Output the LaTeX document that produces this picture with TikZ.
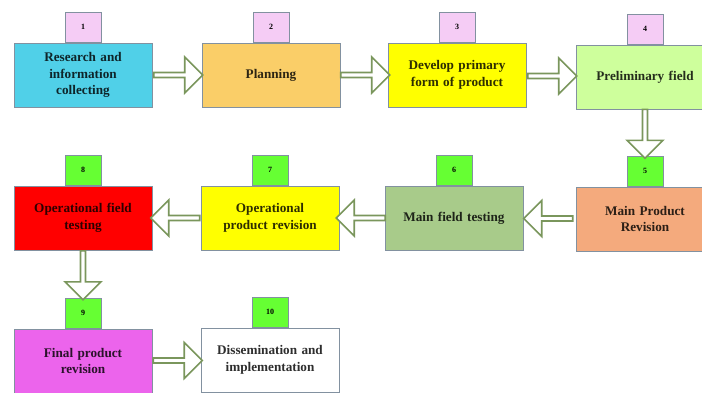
\documentclass[tikz,border=0pt]{standalone}
\usepackage{fontspec}
\setmainfont{Liberation Serif}
\usepackage{xcolor}
\usepackage{tikz}
\usetikzlibrary{positioning,shapes.arrows}

\definecolor{fillcyan}{RGB}{80,208,232}
\definecolor{fillgold}{RGB}{250,206,104}
\definecolor{fillyellow}{RGB}{255,255,0}
\definecolor{filllime}{RGB}{206,255,156}
\definecolor{fillsalmon}{RGB}{244,170,125}
\definecolor{fillsage}{RGB}{168,203,138}
\definecolor{fillred}{RGB}{255,0,0}
\definecolor{fillmagenta}{RGB}{236,100,236}
\definecolor{tabpink}{RGB}{245,204,245}
\definecolor{tabgreen}{RGB}{102,255,51}
\definecolor{boxline}{RGB}{130,145,160}
\definecolor{arrowgreen}{RGB}{122,150,92}

\tikzset{
  stepbox/.style={draw=boxline, line width=0.8pt, fill=#1, text=#1!18!black,
    minimum width=138pt, minimum height=64pt, text width=128pt, align=center,
    inner sep=0pt, font=\fontsize{13.2}{16.5}\selectfont\bfseries},
  numtab/.style={draw=boxline, line width=0.8pt, fill=#1, minimum width=36pt,
    minimum height=30pt, inner sep=0pt, font=\fontsize{8}{9}\selectfont\bfseries},
  hollow/.style={single arrow, draw=arrowgreen, line width=1.6pt, fill=white,
    minimum width=36pt, minimum height=49pt, single arrow head extend=5pt,
    inner sep=0pt, outer sep=0pt, rotate=#1},
  hollow/.default=0
}

\begin{document}
\begin{tikzpicture}[x=1pt,y=-1pt]
        \useasboundingbox (0,0) rectangle (702,392);
        \clip (0,0) rectangle (702,392);
        % first row
        \node[stepbox=fillcyan] (b1) at (83,75) {Research and\\information\\collecting};
        \node[stepbox=fillgold] (b2) at (271,75) {Planning};
        \node[stepbox=fillyellow] (b3) at (457,75) {Develop primary\\form of product};
        \node[stepbox=filllime] (b4) at (645,77) {Preliminary field};
        % second row
        \node[stepbox=fillsalmon] (b5) at (645,219) {Main Product\\Revision};
        \node[stepbox=fillsage] (b6) at (454,218) {Main field testing};
        \node[stepbox=fillyellow] (b7) at (270,218) {Operational\\product revision};
        \node[stepbox=fillred] (b8) at (83,218) {Operational field\\testing};
        % third row
        \node[stepbox=fillmagenta] (b9) at (83,361) {Final product\\revision};
        \node[stepbox=white] (b10) at (270,360) {Dissemination and\\implementation};

        % number tabs
        \node[numtab=tabpink, above=0pt of b1] (t1) {1};
        \node[numtab=tabpink, above=0pt of b2] (t2) {2};
        \node[numtab=tabpink, above=0pt of b3] (t3) {3};
        \node[numtab=tabpink, above=0pt of b4] (t4) {4};
        \node[numtab=tabgreen, above=0pt of b5] (t5) {5};
        \node[numtab=tabgreen, above=0pt of b6] (t6) {6};
        \node[numtab=tabgreen, above=0pt of b7] (t7) {7};
        \node[numtab=tabgreen, above=0pt of b8] (t8) {8};
        \node[numtab=tabgreen, above=0pt of b9] (t9) {9};
        \node[numtab=tabgreen, above=0pt of b10] (t10) {10};

        % hollow arrows
        \path (b1.east) -- (b2.west) node[midway, hollow] (a12) {};
        \path (b2.east) -- (b3.west) node[midway, hollow] (a23) {};
        \path (b3.east) -- (b4.west) node[midway, hollow] (a34) {};
        \path (b4.south) -- (t5.north) node[midway, hollow=-90] (a45) {};
        \path (b5.west) -- (b6.east) node[midway, hollow=180] (a56) {};
        \path (b6.west) -- (b7.east) node[midway, hollow=180] (a67) {};
        \path (b7.west) -- (b8.east) node[midway, hollow=180] (a78) {};
        \path (b8.south) -- (t9.north) node[midway, hollow=-90] (a89) {};
        \path (b9.east) -- (b10.west) node[midway, hollow] (a910) {};
\end{tikzpicture}
\end{document}
